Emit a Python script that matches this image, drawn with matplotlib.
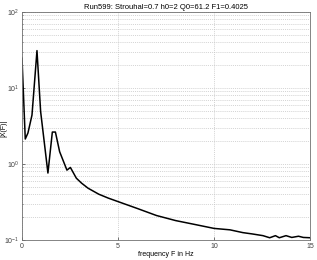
import matplotlib
matplotlib.use("Agg")
import matplotlib.pyplot as plt
import numpy as np

plt.rcParams['font.family'] = ['Liberation Sans', 'DejaVu Sans']

# spectrum
freq = [0.0, 0.17, 0.31, 0.52, 0.78, 0.97, 1.35, 1.58, 1.74, 1.96, 2.34, 2.52,
        2.83, 3.1, 3.44, 4.0, 4.5, 5.0, 6.0, 7.0, 8.0, 9.0, 10.0, 10.83, 11.5, 12.0,
        12.55, 12.9, 13.2, 13.4, 13.75, 14.05, 14.4, 14.65, 15.0]
amp = [24.7, 2.13, 2.56, 4.4, 31.0, 4.9, 0.76, 2.63, 2.63, 1.45, 0.83, 0.90,
       0.65, 0.56, 0.48, 0.40, 0.355, 0.32, 0.26, 0.21, 0.18, 0.16, 0.142, 0.136, 0.125, 0.12,
       0.114, 0.107, 0.114, 0.107, 0.114, 0.108, 0.112, 0.108, 0.107]

title = "Run599: Strouhal=0.7 h0=2 Q0=61.2 F1=0.4025"

fig = plt.figure(figsize=(3.17, 2.60), dpi=100)
ax = fig.add_axes([0.0694, 0.077, 0.9086, 0.877])

ax.semilogy(freq, amp, color='black', linewidth=1.1)
ax.set_xlim(0, 15)
ax.set_ylim(0.1, 100)
ax.set_xticks([0, 5, 10, 15])

ax.grid(True, which='major', linestyle=(0, (1.5, 1.5)), color='#c4c4c4', linewidth=0.5)
ax.grid(True, which='minor', axis='y', linestyle=(0, (1.5, 1.5)), color='#c4c4c4', linewidth=0.5)

ax.tick_params(which='both', direction='in', labelsize=5, length=2, width=0.5,
               colors='#404040', pad=2)
ax.tick_params(which='minor', length=1)
for s in ax.spines.values():
    s.set_linewidth(0.6)
    s.set_color('#707070')

ax.set_title(title, fontsize=5.5, pad=2)
ax.set_xlabel('frequency F in Hz', fontsize=5)
ax.xaxis.set_label_coords(0.5, -0.05)
ax.set_ylabel('|X(F)|', fontsize=5)
ax.yaxis.set_label_coords(-0.052, 0.49)

fig.savefig('out.png', dpi=100)
